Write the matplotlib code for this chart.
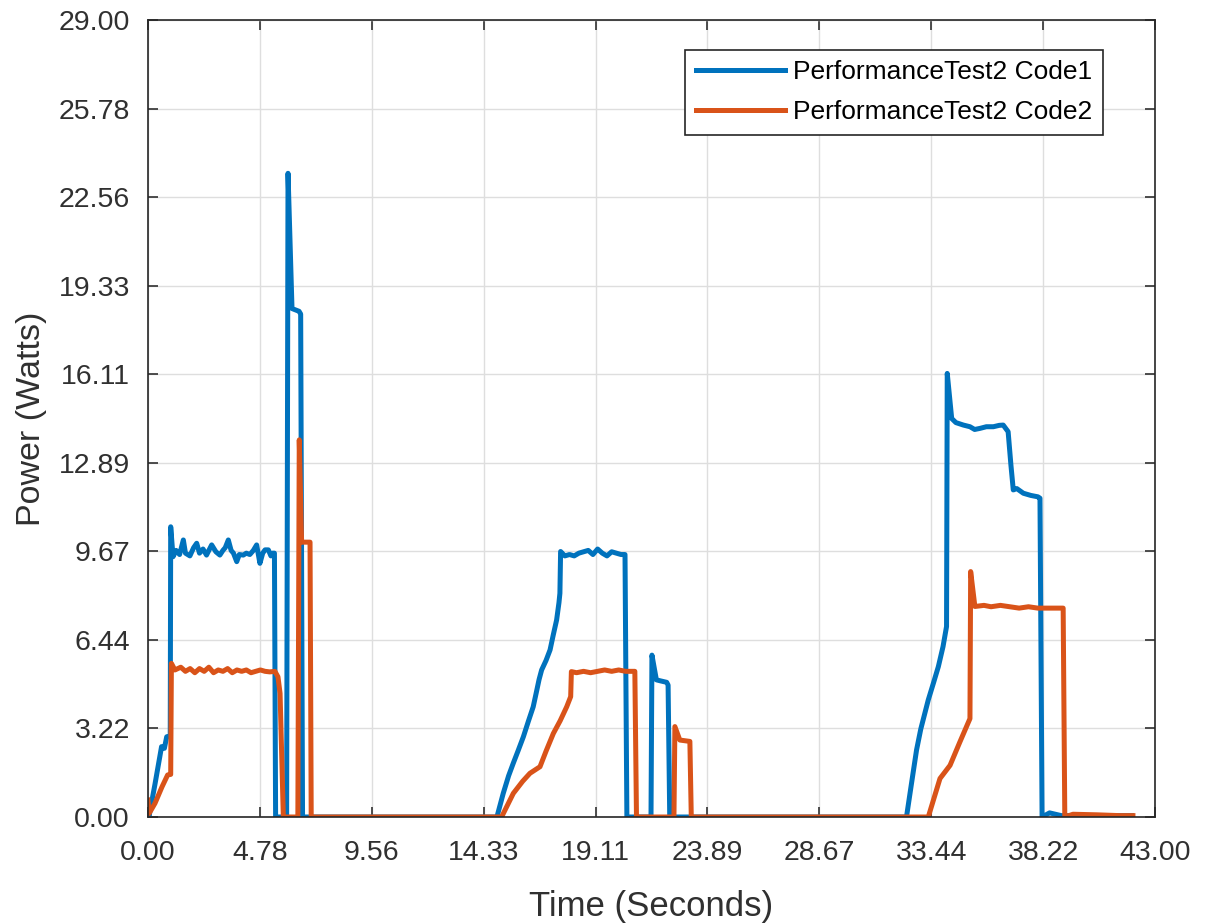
import numpy as np
import matplotlib
matplotlib.use("Agg")
import matplotlib.pyplot as plt

# PerformanceTest2 Code1
t_code1 = [0.00, 0.05, 0.30, 0.58, 0.70, 0.80, 0.95, 0.97, 1.07, 1.20, 1.35, 1.51, 1.60,
           1.79, 1.95, 2.08, 2.20, 2.35, 2.50, 2.60, 2.72, 2.90, 3.07, 3.20, 3.30, 3.43,
           3.55, 3.65, 3.79, 3.90, 4.07, 4.20, 4.35, 4.50, 4.64, 4.78, 4.90, 5.00, 5.14,
           5.25, 5.32, 5.40, 5.45, 5.92, 5.98, 6.15, 6.45, 6.52, 6.60,
           14.90, 15.17, 15.40, 15.60, 15.80, 16.03, 16.25, 16.45, 16.60, 16.70, 16.81,
           17.00, 17.17, 17.30, 17.45, 17.55, 17.59, 17.62, 17.80, 18.00, 18.20, 18.40,
           18.60, 18.80, 19.00, 19.20, 19.40, 19.60, 19.80, 20.00, 20.20, 20.37, 20.45,
           21.48, 21.52, 21.71, 21.90, 22.15, 22.21, 22.28,
           32.39, 32.60, 32.82, 33.00, 33.32, 33.55, 33.75, 33.95, 34.10, 34.13, 34.32,
           34.50, 34.82, 35.10, 35.30, 35.53, 35.80, 36.10, 36.35, 36.52, 36.73, 36.85,
           36.95, 37.10, 37.38, 37.70, 38.00, 38.09, 38.18, 38.50, 39.00, 42.00]
p_code1 = [0.35, 0.05, 1.20, 2.56, 2.50, 2.92, 2.95, 10.56, 9.47, 9.70, 9.55, 10.08, 9.60,
           9.50, 9.80, 9.96, 9.60, 9.75, 9.53, 9.70, 9.90, 9.65, 9.53, 9.70, 9.80, 10.08,
           9.70, 9.60, 9.29, 9.55, 9.53, 9.60, 9.55, 9.70, 9.90, 9.23, 9.60, 9.72, 9.72,
           9.50, 9.60, 9.60, 0.00, 0.00, 23.42, 18.50, 18.40, 18.30, 0.00,
           0.00, 0.86, 1.50, 1.96, 2.40, 2.92, 3.50, 4.01, 4.60, 5.00, 5.35,
           5.70, 6.08, 6.60, 7.17, 7.80, 8.14, 9.66, 9.50, 9.55, 9.50, 9.60,
           9.65, 9.70, 9.55, 9.75, 9.60, 9.50, 9.65, 9.60, 9.55, 9.55, 0.00,
           0.00, 5.89, 4.99, 4.95, 4.90, 4.80, 0.00,
           0.00, 1.20, 2.44, 3.20, 4.26, 4.90, 5.47, 6.20, 6.93, 16.14, 14.50,
           14.35, 14.26, 14.20, 14.10, 14.14, 14.20, 14.20, 14.25, 14.26, 14.02, 12.80,
           11.90, 11.95, 11.78, 11.70, 11.65, 11.60, 0.00, 0.15, 0.05, 0.05]

# PerformanceTest2 Code2
t_code2 = [0.00, 0.05, 0.30, 0.60, 0.84, 0.97, 1.00, 1.15, 1.40, 1.60, 1.80, 2.00, 2.20,
           2.40, 2.60, 2.80, 3.00, 3.20, 3.40, 3.60, 3.80, 4.00, 4.20, 4.40, 4.60, 4.80,
           5.00, 5.20, 5.42, 5.55, 5.64, 5.78, 6.40, 6.46, 6.56, 6.92, 6.97,
           15.10, 15.60, 16.00, 16.31, 16.74, 17.00, 17.31, 17.60, 17.88, 18.05, 18.08,
           18.30, 18.60, 18.90, 19.20, 19.50, 19.80, 20.10, 20.40, 20.79, 20.86,
           22.46, 22.50, 22.71, 23.14, 23.20,
           33.32, 33.82, 34.25, 34.67, 35.10, 35.13, 35.31, 35.70, 36.00, 36.40, 36.80,
           37.20, 37.60, 38.00, 38.50, 39.08, 39.15, 39.50, 40.50, 41.50, 42.06]
p_code2 = [0.62, 0.13, 0.50, 1.10, 1.53, 1.55, 5.59, 5.35, 5.45, 5.30, 5.40, 5.25, 5.40,
           5.30, 5.45, 5.25, 5.35, 5.30, 5.40, 5.25, 5.35, 5.30, 5.35, 5.25, 5.30, 5.35,
           5.30, 5.28, 5.30, 5.10, 4.50, 0.00, 0.00, 13.72, 10.00, 10.00, 0.00,
           0.00, 0.86, 1.30, 1.59, 1.83, 2.40, 3.04, 3.50, 4.01, 4.38, 5.29,
           5.25, 5.30, 5.25, 5.30, 5.35, 5.30, 5.35, 5.30, 5.30, 0.00,
           0.00, 3.29, 2.80, 2.75, 0.00,
           0.00, 1.40, 1.88, 2.73, 3.58, 8.93, 7.66, 7.70, 7.65, 7.70, 7.65,
           7.60, 7.65, 7.60, 7.60, 7.60, 0.00, 0.10, 0.08, 0.05, 0.05]

x_max = 43.0
y_max = 29.0
n_div = 9

plt.rcParams['font.family'] = ['Liberation Sans', 'DejaVu Sans']

fig = plt.figure(figsize=(12.09, 9.24), dpi=100)
ax = fig.add_axes([0.1224, 0.1158, 0.8329, 0.8626])

ax.plot(t_code1, p_code1, color='#0072BD', linewidth=3.6, label='PerformanceTest2 Code1')
ax.plot(t_code2, p_code2, color='#D95319', linewidth=3.6, label='PerformanceTest2 Code2')

ax.set_xlim(0, x_max)
ax.set_ylim(0, y_max)
xt = np.linspace(0, x_max, n_div + 1)
yt = np.linspace(0, y_max, n_div + 1)
ax.set_xticks(xt)
ax.set_yticks(yt)
ax.set_xticklabels([f"{v:.2f}" for v in xt])
ax.set_yticklabels([f"{v:.2f}" for v in yt])

ax.grid(True, color='#dedede', linewidth=1.0)
ax.set_axisbelow(True)
ax.tick_params(axis='both', direction='in', top=True, right=True, length=7, width=1.2,
               labelsize=20.5, colors='#303030')
ax.tick_params(axis='x', pad=16.5)
ax.tick_params(axis='y', pad=13)
for s in ax.spines.values():
    s.set_color('#262626')
    s.set_linewidth(1.2)

ax.set_xlabel('Time (Seconds)', fontsize=25, color='#303030', labelpad=17)
ax.set_ylabel('Power (Watts)', fontsize=24.5, color='#303030', labelpad=8)

leg = ax.legend(loc='upper right', bbox_to_anchor=(0.9484, 0.9624), borderaxespad=0,
                fontsize=19, handlelength=3.4, handletextpad=0.3, labelspacing=0.6,
                borderpad=0.4, fancybox=False, framealpha=1, edgecolor='#262626')
leg.get_frame().set_linewidth(1.2)

fig.savefig('out.png', dpi=100)
